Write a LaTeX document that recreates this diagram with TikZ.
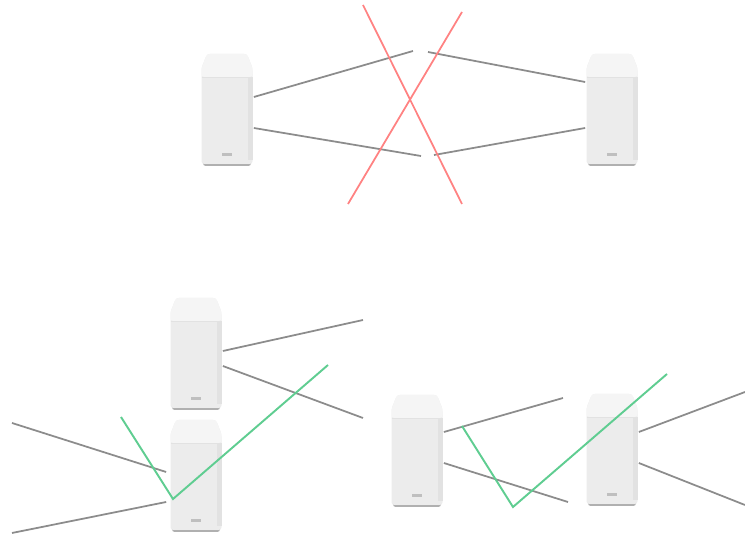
\documentclass[tikz,border=0pt]{standalone}
\usepackage{tikz}
\usepackage{xcolor}
\usetikzlibrary{calc}

\definecolor{caseface}{RGB}{236,236,236}
\definecolor{casecap}{RGB}{245,245,245}
\definecolor{caseside}{RGB}{226,226,226}
\definecolor{casefoot}{RGB}{176,176,176}
\definecolor{wire}{RGB}{140,140,140}
\definecolor{blocked}{RGB}{255,130,130}
\definecolor{bounce}{RGB}{95,205,145}

\tikzset{
	link/.style={wire,line width=1pt},
	cross/.style={blocked,line width=1pt},
	path/.style={bounce,line width=1.1pt},
}

\begin{document}
\begin{tikzpicture}[x=0.02cm,y=-0.02cm]
		\def\router#1#2{ % #1 Name, #2 Center
			\node[minimum width=1.02cm,minimum height=2.24cm,inner sep=0] (#1) at (#2) {};
			\begin{scope}[shift={(#1.center)}]
				\fill[casefoot,rounded corners=1.5pt] (-24,46) rectangle (24,56);
				\fill[caseface,rounded corners=1.5pt] (-25.5,-42) -- (-20,-56) -- (20,-56) -- (25.5,-42) -- (25.5,54) -- (-25.5,54) -- cycle;
				\fill[caseside] (21,-33) -- (25.5,-33) -- (25.5,50) -- (21,50) -- cycle;
				\fill[casecap,rounded corners=1.5pt] (-25.5,-42) -- (-20,-56) -- (20,-56) -- (25.5,-42) -- (25.5,-33) -- (-25.5,-33) -- cycle;
				\draw[caseside,line width=0.3pt] (-25.5,-33) -- (25.5,-33);
				\fill[gray!50] (-5,43.5) rectangle (5,46);
			\end{scope}
		}
		\useasboundingbox (0,0) rectangle (745,536);

		% two units with the direct links cut
		\router{r1}{227,110}
		\router{r2}{612,110}
		\coordinate (t1) at (413,51);
		\coordinate (t2) at (428,52);
		\coordinate (t3) at (421,156);
		\coordinate (t4) at (434,155);
		\draw[link] ($(r1.east)+(1,-13)$) -- (t1);
		\draw[link] (t2) -- ($(r2.west)+(-1,-28)$);
		\draw[link] ($(r1.east)+(1,18)$) -- (t3);
		\draw[link] (t4) -- ($(r2.west)+(-1,18)$);
		\coordinate (x1) at (363,5);
		\coordinate (x2) at (462,204);
		\coordinate (x3) at (462,12);
		\coordinate (x4) at (348,204);
		\draw[cross] (x1) -- (x2);
		\draw[cross] (x3) -- (x4);

		% stacked units
		\router{r3}{196,354}
		\router{r4}{196,476}
		\coordinate (s1) at (363,320);
		\coordinate (s2) at (363,418);
		\coordinate (s3) at (12,423);
		\coordinate (s4) at (12,533);
		\draw[link] ($(r3.east)+(1,-3)$) -- (s1);
		\draw[link] ($(r3.east)+(1,12)$) -- (s2);
		\draw[link] ($(r4.west)+(-4,-4)$) -- (s3);
		\draw[link] ($(r4.west)+(-4,26)$) -- (s4);
		\coordinate (g1) at (121,417);
		\coordinate (g2) at (173,499);
		\coordinate (g3) at (328,365);
		\draw[path] (g1) -- (g2) -- (g3);

		% side by side units
		\router{r5}{417,451}
		\router{r6}{612,450}
		\coordinate (u1) at (563,398);
		\coordinate (u2) at (568,502);
		\coordinate (u3) at (745,392);
		\coordinate (u4) at (745,505);
		\draw[link] ($(r5.east)+(1,-19)$) -- (u1);
		\draw[link] ($(r5.east)+(1,12)$) -- (u2);
		\draw[link] ($(r6.east)+(1,-18)$) -- (u3);
		\draw[link] ($(r6.east)+(1,13)$) -- (u4);
		\coordinate (h1) at (462,426);
		\coordinate (h2) at (513,507);
		\coordinate (h3) at (667,374);
		\draw[path] (h1) -- (h2) -- (h3);
	\end{tikzpicture}
\end{document}
